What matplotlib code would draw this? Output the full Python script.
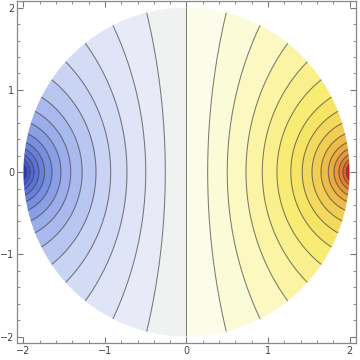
import numpy as np
import matplotlib
matplotlib.use("Agg")
import matplotlib.pyplot as plt
from matplotlib.colors import LinearSegmentedColormap
from matplotlib.patches import Circle
from matplotlib.ticker import MultipleLocator

# disk radius and the two point sources just outside the rim
radius = 2.0
source_x = 2.1

# where each contour line crosses the positive x axis
crossings = [0.26, 0.50, 0.73, 0.93, 1.11, 1.28, 1.42, 1.54, 1.65, 1.74, 1.81, 1.87, 1.92, 1.96]

tick_values = [-2, -1, 0, 1, 2]

# ThermometerColors-like map, 0.5 = zero level
cmap = LinearSegmentedColormap.from_list("thermo", [
    (0.00, (0.15, 0.22, 0.75)),
    (0.18, (0.40, 0.50, 0.86)),
    (0.28, (0.62, 0.69, 0.92)),
    (0.36, (0.78, 0.82, 0.95)),
    (0.42, (0.87, 0.89, 0.97)),
    (0.46, (0.92, 0.93, 0.97)),
    (0.49, (0.95, 0.955, 0.94)),
    (0.52, (0.99, 0.99, 0.92)),
    (0.56, (0.99, 0.98, 0.82)),
    (0.62, (0.98, 0.95, 0.60)),
    (0.68, (0.97, 0.92, 0.42)),
    (0.76, (0.94, 0.80, 0.32)),
    (0.86, (0.90, 0.58, 0.22)),
    (1.00, (0.82, 0.12, 0.12)),
])
f_max = 3.9


def field(x, y):
    d1 = np.hypot(x + source_x, y)
    d2 = np.hypot(x - source_x, y)
    return np.log(d1 / d2)


pos = np.array(crossings)
lev_pos = field(pos, 0 * pos)
levels = np.concatenate([-lev_pos[::-1], [0.0], lev_pos])
fill_levels = np.concatenate([[-60], levels, [60]])
mids = np.concatenate([[-f_max], 0.5 * (levels[1:] + levels[:-1]), [f_max]])
band_colors = [cmap(np.clip(0.5 + 0.5 * m / f_max, 0, 1)) for m in mids]

g = np.linspace(-2.08, 2.08, 1200)
X, Y = np.meshgrid(g, g)
Z = field(X, Y)

fig = plt.figure(figsize=(3.6, 3.6), dpi=100)
ax = fig.add_axes([0.047, 0.047, 0.942, 0.95])

disk = Circle((0, 0), radius, transform=ax.transData)
cf = ax.contourf(X, Y, Z, levels=fill_levels, colors=band_colors, antialiased=True)
cf.set_clip_path(disk)
cl = ax.contour(X, Y, Z, levels=levels, colors=[(0.15, 0.15, 0.15)], linewidths=0.75,
                alpha=0.6, linestyles="solid")
cl.set_clip_path(disk)

ax.set_xlim(-2.08, 2.08)
ax.set_ylim(-2.08, 2.08)
ax.set_aspect("auto")

ax.set_xticks(tick_values)
ax.set_yticks(tick_values)
ax.xaxis.set_minor_locator(MultipleLocator(0.2))
ax.yaxis.set_minor_locator(MultipleLocator(0.2))
ax.tick_params(which="both", direction="in", top=True, right=True, colors="#777777",
               labelcolor="#444444", labelsize=7, pad=2)
ax.tick_params(which="major", length=4, width=0.8)
ax.tick_params(which="minor", length=2, width=0.6)
for s in ax.spines.values():
    s.set_color("#888888")
    s.set_linewidth(0.9)

plt.savefig("out.png", dpi=100)
